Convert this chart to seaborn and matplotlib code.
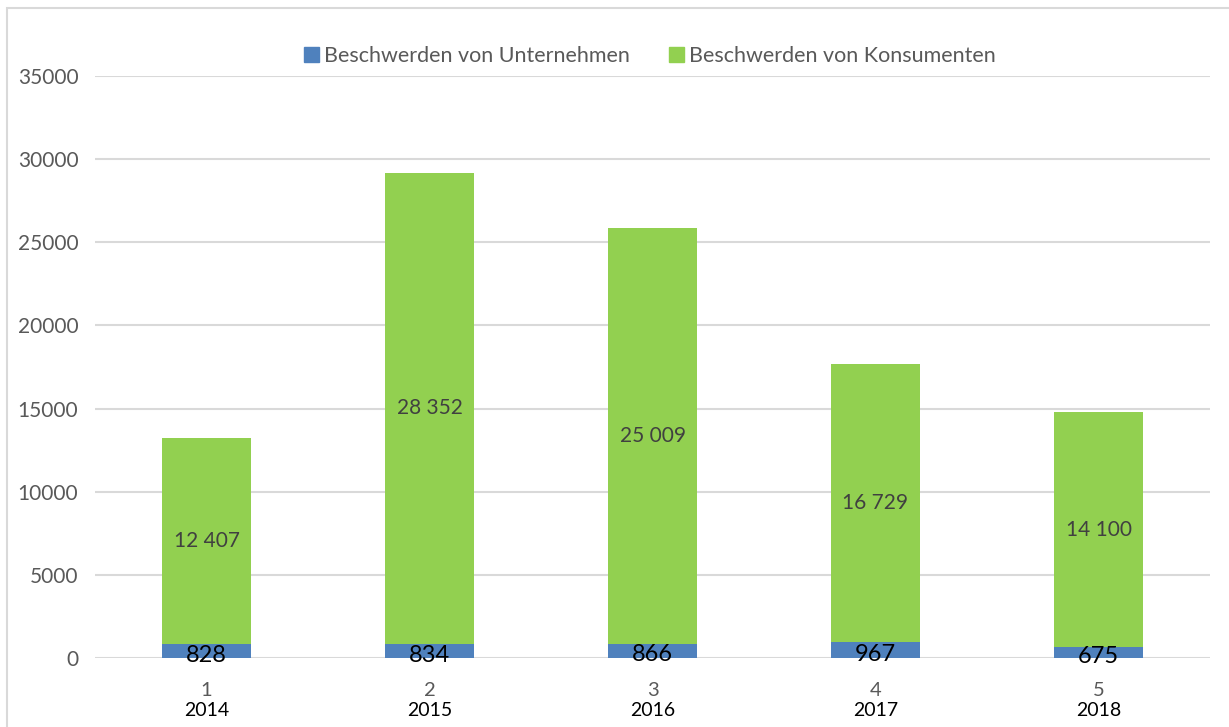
import matplotlib
matplotlib.use('Agg')
import matplotlib.pyplot as plt
import seaborn as sns
import pandas as pd
from matplotlib.patches import Patch, Rectangle

# Daten
kategorien = ['1', '2', '3', '4', '5']
jahre = ['2014', '2015', '2016', '2017', '2018']
unternehmen = [828, 834, 866, 967, 675]
konsumenten = [12407, 28352, 25009, 16729, 14100]

df = pd.DataFrame({'Kat': kategorien, 'Jahr': jahre,
                   'Unternehmen': unternehmen, 'Konsumenten': konsumenten})
df['Gesamt'] = df['Unternehmen'] + df['Konsumenten']

blau = '#4F81BD'
gruen = '#92D050'
grau = '#595959'

sns.set_theme(style='white')
plt.rcParams['font.family'] = ['Lato', 'DejaVu Sans']

fig = plt.figure(figsize=(12.29, 7.27), dpi=100)
ax = fig.add_axes([95 / 1229, 1 - 658 / 727, (1210 - 95) / 1229, (658 - 76) / 727])

sns.barplot(data=df, x='Kat', y='Gesamt', color=gruen, width=0.4, saturation=1,
            linewidth=0, ax=ax, zorder=2)
sns.barplot(data=df, x='Kat', y='Unternehmen', color=blau, width=0.4, saturation=1,
            linewidth=0, ax=ax, zorder=3)

# Beschriftungen
for i, r in df.iterrows():
    ax.text(i, r['Unternehmen'] + r['Konsumenten'] / 2, f"{r['Konsumenten']:,}".replace(',', ' '),
            ha='center', va='center', fontsize=15, color='#404040', zorder=4)
    ax.annotate(str(r['Unternehmen']), xy=(i, r['Unternehmen'] / 2), xytext=(0, -3),
                textcoords='offset points', ha='center', va='center',
                fontsize=17, color='black', zorder=4)
    ax.annotate(r['Jahr'], xy=(i, 0), xycoords=('data', 'axes fraction'),
                xytext=(0, -32), textcoords='offset points',
                ha='center', va='top', fontsize=14, color='black')

ax.set_ylim(0, 35000)
ax.set_xlim(-0.5, 4.5)
ax.set_yticks(range(0, 35001, 5000))
ax.set_xlabel('')
ax.set_ylabel('')
ax.grid(axis='y', color='#d9d9d9', linewidth=1.5, zorder=0)
ax.set_axisbelow(True)
for s in ax.spines.values():
    s.set_visible(False)
ax.tick_params(axis='y', labelsize=15, labelcolor=grau, length=0, pad=12)
ax.tick_params(axis='x', labelsize=14.5, labelcolor=grau, length=0, pad=17)

handles = [Patch(color=blau, label='Beschwerden von Unternehmen'),
           Patch(color=gruen, label='Beschwerden von Konsumenten')]
fig.legend(handles=handles, loc='center', bbox_to_anchor=(650 / 1229, 1 - 56 / 727),
           ncol=2, frameon=False, fontsize=15.5, labelcolor=grau,
           handlelength=0.7, handleheight=0.7, handletextpad=0.25, columnspacing=1.8)

# Rahmen
fig.patches.append(Rectangle((7 / 1229, -0.1), 1.1, 1.1 - 8 / 727, transform=fig.transFigure,
                             fill=False, edgecolor='#d9d9d9', linewidth=1.5))

fig.savefig('out.png', dpi=100)
